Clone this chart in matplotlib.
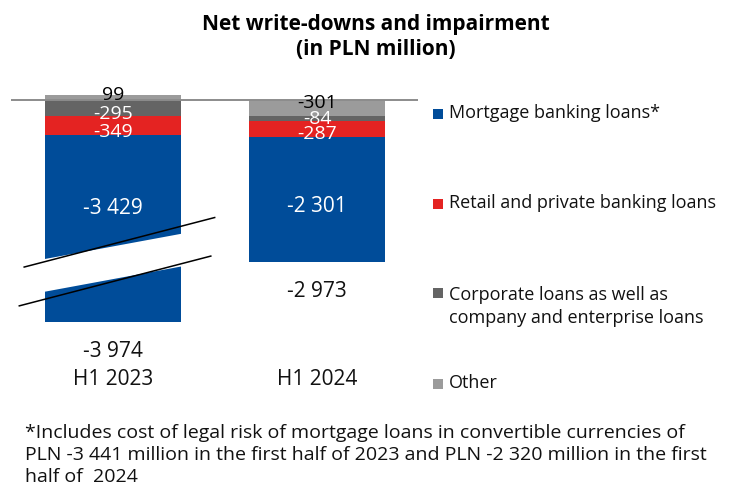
import matplotlib
matplotlib.use("Agg")
import matplotlib.pyplot as plt
from matplotlib import font_manager
from matplotlib.patches import Rectangle, Polygon
import numpy as np

# ---- data (PLN million) ----
periods = ["H1 2023", "H1 2024"]
series_names = [
    "Mortgage banking loans*",
    "Retail and private banking loans",
    "Corporate loans as well as\ncompany and enterprise loans",
    "Other",
]
mortgage = [-3429, -2301]
retail = [-349, -287]
corporate = [-295, -84]
other = [99, -301]
totals = [-3974, -2973]
footnote = ("*Includes cost of legal risk of mortgage loans in convertible currencies of\n"
            "PLN -3 441 million in the first half of 2023 and PLN -2 320 million in the first\n"
            "half of  2024")

colors = {
    "mortgage": "#004C99",
    "retail": "#E42322",
    "corporate": "#646464",
    "other": "#9B9B9B",
}

installed = {f.name for f in font_manager.fontManager.ttflist}
main_font = "Open Sans" if "Open Sans" in installed else "DejaVu Sans"
plt.rcParams["font.family"] = [main_font, "DejaVu Sans"]

W, H = 735, 491
fig = plt.figure(figsize=(W / 100, H / 100), dpi=100)

# axes placed in pixel terms: zero line spans x 11..418
ax_left, ax_right = 11, 418
ax_top, ax_bottom = 85, 330
ax = fig.add_axes([ax_left / W, 1 - ax_bottom / H, (ax_right - ax_left) / W, (ax_bottom - ax_top) / H])

x = np.arange(len(periods))
bar_w = 0.665
ax.set_xlim(-0.50, 1.495)
ax.set_ylim(-4221, 275)

# stack order below zero: Other, Corporate, Retail, Mortgage
stack_order = [("other", other), ("corporate", corporate), ("retail", retail), ("mortgage", mortgage)]
neg_base = np.zeros(len(periods))
pos_base = np.zeros(len(periods))
segments = {}
for key, vals in stack_order:
    vals = np.array(vals, dtype=float)
    bottoms = np.where(vals < 0, neg_base, pos_base)
    ax.bar(x, vals, bar_w, bottom=bottoms, color=colors[key], edgecolor="none", zorder=2)
    segments[key] = (bottoms, vals)
    neg_base = neg_base + np.where(vals < 0, vals, 0)
    pos_base = pos_base + np.where(vals >= 0, vals, 0)

ax.axhline(0, color="#8C8C8C", lw=1.4, zorder=3)

# segment value labels (offsets in points keep thin segments readable)
label_style = {
    "other": ("black", 14, [(0, 2), (0, 3.5)]),
    "corporate": ("white", 14, [(0, -4), (0, -0.5)]),
    "retail": ("white", 14, [(0, -4.5), (0, -3.5)]),
    "mortgage": ("white", 15, [(0, 14.5), (0, -5)]),
}
for key, (bottoms, vals) in segments.items():
    col, fs, offs = label_style[key]
    for i in range(len(periods)):
        yc = bottoms[i] + vals[i] / 2
        txt = f"{int(vals[i]):,}".replace(",", " ")
        ax.annotate(txt, (x[i], yc), xytext=offs[i], textcoords="offset points",
                    ha="center", va="center", color=col, fontsize=fs, zorder=5)

# totals under the bars
for i, t in enumerate(totals):
    ax.annotate(f"{t:,}".replace(",", " "), (x[i], neg_base[i]), xytext=(0, -21),
                textcoords="offset points", ha="center", va="center", fontsize=15, color="#111111")

# axis break on the first bar
slope_gap, slope_line = 692, 973
mid, half_gap = -2987, 300
bx = bar_w / 2 + 0.003
gap_poly = Polygon([(-bx, mid + half_gap - slope_gap * bx), (bx, mid + half_gap + slope_gap * bx),
                    (bx, mid - half_gap + slope_gap * bx), (-bx, mid - half_gap - slope_gap * bx)],
                   closed=True, facecolor="white", edgecolor="none", zorder=4)
ax.add_patch(gap_poly)
for y0, (xa, xb) in [(mid + 345, (-0.439, 0.502)), (mid - 344, (-0.463, 0.483))]:
    xs = np.array([xa, xb])
    ax.plot(xs, y0 + slope_line * xs, color="black", lw=1.1, zorder=6, solid_capstyle="butt")

ax.set_xticks(x, periods)
ax.tick_params(axis="x", length=0, pad=28, labelsize=15, labelcolor="#111111")
ax.set_yticks([])
for s in ax.spines.values():
    s.set_visible(False)

# title
fig.text(376 / W, 1 - 37 / H, "Net write-downs and impairment\n(in PLN million)",
         ha="center", va="center", fontsize=15, fontweight="bold", linespacing=1.3)

# legend
leg_y = [114, 204, 293, 384]
leg_keys = ["mortgage", "retail", "corporate", "other"]
for key, name, yy in zip(leg_keys, series_names, leg_y):
    fig.patches.append(Rectangle((433 / W, 1 - (yy + 5) / H), 10 / W, 10 / H,
                                 transform=fig.transFigure, facecolor=colors[key], edgecolor="none"))
    multi = "\n" in name
    ty = 1 - (yy - 7.5) / H if multi else 1 - (yy - 1.5) / H
    fig.text(449 / W, ty, name, ha="left", va="top" if multi else "center",
             fontsize=13, linespacing=1.38, color="#111111")

fig.text(25 / W, 1 - 455 / H, footnote, ha="left", va="center", fontsize=14,
         linespacing=1.3, color="#111111")

fig.savefig("out.png", dpi=100)
